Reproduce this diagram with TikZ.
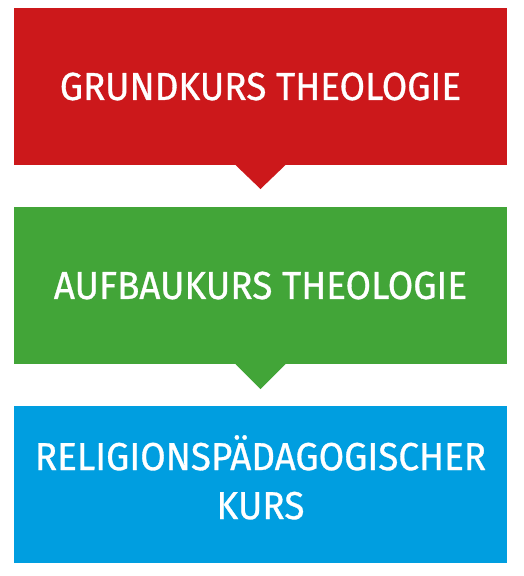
\documentclass[tikz,border=0pt]{standalone}
\usepackage{fontspec}
\setmainfont{Fira Sans}[FakeStretch=0.945,FakeBold=0.8]
\definecolor{boxred}{RGB}{204,24,27}
\definecolor{boxgreen}{RGB}{66,165,56}
\definecolor{boxblue}{RGB}{0,158,224}
\begin{document}
\begin{tikzpicture}[x=1pt,y=-1pt,
  stage/.style={minimum width=493pt,minimum height=157pt,inner sep=0pt,outer sep=0pt,
    text=white,font=\fontsize{39}{49}\selectfont,align=center,anchor=north west}]
\useasboundingbox (0,0) rectangle (523,576);
\node[stage,fill=boxred]   (grund) at (14,8)   {GRUNDKURS THEOLOGIE};
\node[stage,fill=boxgreen] (aufbau) at (14,207) {AUFBAUKURS THEOLOGIE};
\node[stage,fill=boxblue]  (relig) at (14,406)  {\raisebox{5pt}{\begin{tabular}{@{}c@{}}RELIGIONSPÄDAGOGISCHER\\KURS\end{tabular}}};
\fill[boxred] ([xshift=-25pt]grund.south) -- ([xshift=25pt]grund.south) -- ([yshift=-24pt]grund.south) -- cycle;
\fill[boxgreen] ([xshift=-25pt]aufbau.south) -- ([xshift=25pt]aufbau.south) -- ([yshift=-25pt]aufbau.south) -- cycle;
\end{tikzpicture}
\end{document}
